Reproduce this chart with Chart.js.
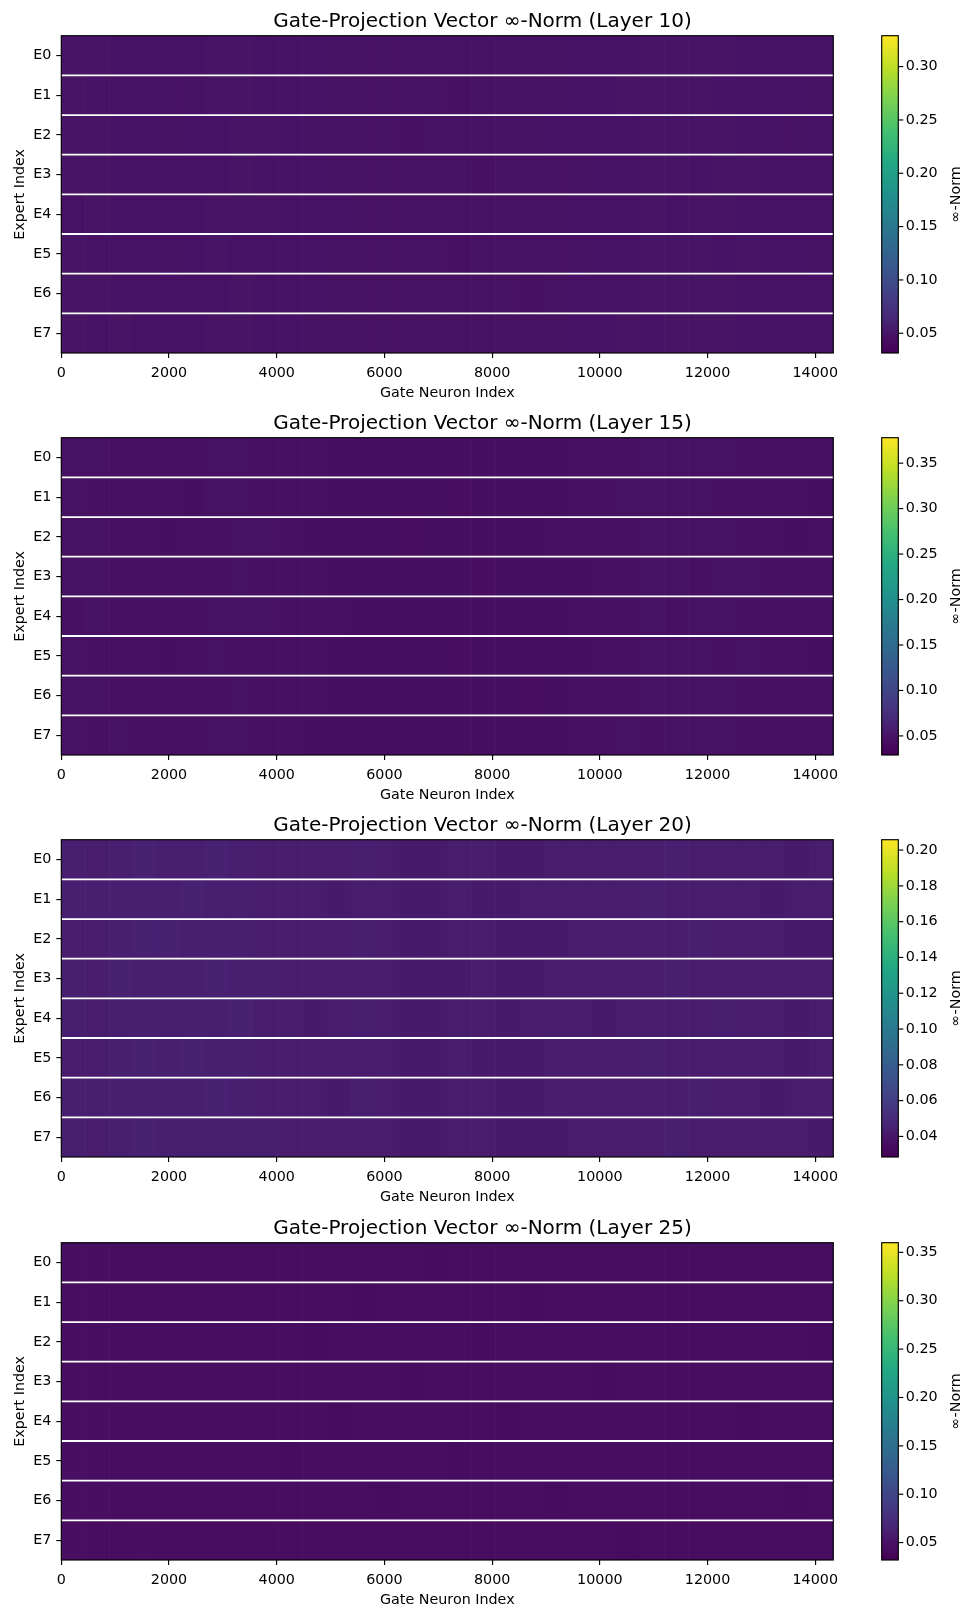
<!DOCTYPE html>
<html>
<head>
<meta charset="utf-8">
<script src="https://cdn.jsdelivr.net/npm/chart.js@4.4.1/dist/chart.umd.min.js"></script>
<style>
    body { margin: 0; background: #fff; width: 965px; height: 1610px; position: relative; overflow: hidden; }
    .panel { position: absolute; left: 0; width: 965px; height: 403px; }
</style>
</head>
<body>
<div class="panel" style="top:0px"><canvas id="chartL10" width="965" height="403"></canvas></div>
<div class="panel" style="top:402px"><canvas id="chartL15" width="965" height="403"></canvas></div>
<div class="panel" style="top:804px"><canvas id="chartL20" width="965" height="403"></canvas></div>
<div class="panel" style="top:1207px"><canvas id="chartL25" width="965" height="403"></canvas></div>
<script>
// ---- data ----
const experts = ['E0', 'E1', 'E2', 'E3', 'E4', 'E5', 'E6', 'E7'];
const numNeurons = 14336;
const xTicks = [0, 2000, 4000, 6000, 8000, 10000, 12000, 14000];

// colour limits of each panel
const range10 = [0.0315, 0.329];
const range15 = [0.029, 0.378];
const range20 = [0.0285, 0.2058];
const range25 = [0.032, 0.360];

const cbarTicks10 = [0.05, 0.10, 0.15, 0.20, 0.25, 0.30];
const cbarTicks15 = [0.05, 0.10, 0.15, 0.20, 0.25, 0.30, 0.35];
const cbarTicks20 = [0.04, 0.06, 0.08, 0.10, 0.12, 0.14, 0.16, 0.18, 0.20];
const cbarTicks25 = [0.05, 0.10, 0.15, 0.20, 0.25, 0.30, 0.35];

// inf-norm per expert, averaged over 32 blocks of 448 gate neurons
const layer10 = [
    [.049,.049,.048,.048,.048,.048,.049,.049,.048,.048,.048,.047,.047,.047,.047,.047,.047,.047,.047,.047,.047,.048,.048,.048,.049,.049,.049,.049,.048,.048,.048,.048],
    [.049,.048,.048,.048,.048,.047,.049,.049,.048,.048,.048,.047,.047,.047,.047,.047,.046,.047,.047,.047,.047,.048,.048,.049,.049,.049,.049,.048,.048,.048,.048,.047],
    [.049,.049,.048,.048,.047,.048,.048,.049,.049,.048,.047,.047,.047,.047,.046,.047,.047,.047,.047,.047,.048,.048,.048,.048,.049,.049,.049,.049,.048,.048,.047,.048],
    [.049,.049,.048,.048,.048,.048,.048,.049,.048,.048,.048,.047,.047,.047,.047,.047,.047,.046,.047,.047,.047,.047,.048,.048,.049,.049,.048,.049,.049,.048,.048,.048],
    [.048,.049,.048,.048,.048,.048,.049,.049,.049,.048,.048,.048,.047,.047,.047,.047,.047,.047,.047,.047,.047,.048,.048,.048,.049,.048,.049,.049,.048,.048,.048,.048],
    [.049,.048,.048,.048,.047,.048,.049,.048,.048,.048,.048,.047,.047,.047,.047,.047,.046,.047,.047,.047,.047,.047,.048,.048,.049,.049,.049,.048,.049,.048,.048,.047],
    [.049,.049,.048,.048,.048,.048,.048,.049,.048,.048,.048,.047,.047,.047,.047,.047,.047,.047,.047,.046,.047,.048,.048,.048,.049,.049,.049,.049,.048,.048,.048,.048],
    [.049,.048,.049,.048,.048,.048,.049,.049,.048,.048,.047,.047,.047,.047,.047,.047,.047,.047,.047,.047,.047,.048,.048,.049,.048,.049,.049,.049,.048,.048,.048,.048]
];
const layer15 = [
    [.047,.047,.046,.046,.046,.046,.047,.047,.046,.046,.046,.045,.045,.045,.045,.045,.045,.045,.045,.045,.045,.046,.046,.046,.047,.047,.047,.047,.046,.046,.046,.046],
    [.047,.046,.046,.046,.046,.045,.047,.047,.046,.046,.046,.045,.045,.045,.045,.045,.044,.045,.045,.045,.045,.046,.046,.047,.047,.047,.047,.046,.046,.046,.046,.045],
    [.047,.047,.046,.046,.045,.046,.046,.047,.047,.046,.045,.045,.045,.045,.044,.045,.045,.045,.045,.045,.046,.046,.046,.046,.047,.047,.047,.047,.046,.046,.045,.046],
    [.047,.047,.046,.046,.046,.046,.046,.047,.046,.046,.046,.045,.045,.045,.045,.045,.045,.044,.045,.045,.045,.045,.046,.046,.047,.047,.046,.047,.047,.046,.046,.046],
    [.046,.047,.046,.046,.046,.046,.047,.047,.047,.046,.046,.046,.045,.045,.045,.045,.045,.045,.045,.045,.045,.046,.046,.046,.047,.046,.047,.047,.046,.046,.046,.046],
    [.047,.046,.046,.046,.045,.046,.047,.046,.046,.046,.046,.045,.045,.045,.045,.045,.044,.045,.045,.045,.045,.045,.046,.046,.047,.047,.047,.046,.047,.046,.046,.045],
    [.047,.047,.046,.046,.046,.046,.046,.047,.046,.046,.046,.045,.045,.045,.045,.045,.045,.045,.045,.044,.045,.046,.046,.046,.047,.047,.047,.047,.046,.046,.046,.046],
    [.047,.046,.047,.046,.046,.046,.047,.047,.046,.046,.045,.045,.045,.045,.045,.045,.045,.045,.045,.045,.045,.046,.046,.047,.046,.047,.047,.047,.046,.046,.046,.046]
];
const layer20 = [
    [.044,.043,.044,.045,.044,.044,.045,.044,.043,.043,.043,.043,.044,.043,.042,.042,.043,.043,.042,.042,.043,.043,.043,.043,.043,.044,.043,.043,.043,.043,.042,.043],
    [.044,.044,.044,.044,.044,.045,.044,.044,.043,.043,.043,.042,.043,.043,.042,.042,.043,.042,.042,.043,.043,.043,.043,.043,.044,.043,.043,.043,.043,.042,.043,.043],
    [.043,.043,.044,.045,.045,.044,.044,.044,.043,.043,.043,.043,.044,.043,.042,.042,.043,.043,.042,.042,.042,.043,.043,.043,.043,.043,.044,.043,.043,.043,.042,.042],
    [.044,.043,.045,.044,.044,.044,.045,.044,.044,.043,.043,.043,.043,.043,.042,.042,.042,.043,.042,.042,.043,.043,.043,.043,.043,.044,.043,.043,.043,.043,.043,.043],
    [.044,.043,.044,.044,.044,.044,.044,.045,.043,.043,.042,.043,.044,.043,.042,.042,.043,.043,.042,.043,.043,.043,.042,.043,.043,.043,.043,.044,.043,.043,.042,.043],
    [.043,.043,.044,.045,.044,.045,.044,.044,.043,.043,.043,.043,.043,.043,.042,.042,.043,.042,.042,.042,.043,.043,.043,.043,.044,.043,.043,.043,.043,.043,.042,.043],
    [.044,.044,.044,.044,.044,.044,.045,.044,.043,.043,.043,.042,.044,.043,.042,.042,.043,.043,.042,.042,.043,.043,.043,.043,.043,.043,.044,.043,.043,.042,.043,.043],
    [.044,.043,.044,.045,.044,.044,.044,.044,.044,.043,.043,.043,.043,.043,.042,.042,.043,.043,.042,.042,.042,.043,.043,.043,.043,.044,.043,.043,.043,.043,.043,.042]
];
const layer25 = [
    [.046,.046,.045,.045,.045,.045,.045,.045,.045,.045,.045,.045,.045,.045,.045,.044,.045,.045,.045,.045,.045,.045,.045,.045,.045,.045,.045,.045,.045,.045,.045,.045],
    [.046,.045,.045,.045,.045,.045,.045,.045,.045,.045,.045,.045,.044,.045,.045,.045,.045,.045,.045,.044,.045,.045,.045,.045,.045,.045,.045,.045,.045,.045,.045,.045],
    [.046,.046,.045,.045,.045,.045,.045,.045,.045,.045,.044,.045,.045,.045,.045,.045,.045,.044,.045,.045,.045,.045,.045,.045,.045,.045,.045,.045,.045,.045,.045,.044],
    [.046,.045,.046,.045,.045,.045,.045,.045,.045,.045,.045,.045,.045,.045,.044,.045,.045,.045,.045,.045,.045,.045,.044,.045,.045,.045,.045,.045,.045,.045,.045,.045],
    [.046,.046,.045,.045,.045,.045,.045,.045,.045,.045,.045,.044,.045,.045,.045,.045,.045,.045,.044,.045,.045,.045,.045,.045,.045,.045,.045,.045,.044,.045,.045,.045],
    [.046,.045,.045,.045,.045,.045,.045,.045,.045,.044,.045,.045,.045,.045,.045,.045,.044,.045,.045,.045,.045,.045,.045,.045,.045,.045,.045,.045,.045,.045,.045,.045],
    [.046,.046,.045,.045,.045,.045,.045,.045,.045,.045,.045,.045,.045,.044,.045,.045,.045,.045,.045,.045,.044,.045,.045,.045,.045,.045,.045,.045,.045,.045,.044,.045],
    [.046,.045,.045,.046,.045,.045,.045,.045,.045,.045,.045,.045,.045,.045,.045,.045,.045,.045,.045,.045,.045,.045,.045,.044,.045,.045,.045,.045,.045,.045,.045,.045]
];

// ---- colour map (viridis) ----
const VIRIDIS = [
    [0.00, 68, 1, 84], [0.05, 71, 16, 99], [0.10, 72, 36, 117], [0.15, 70, 52, 128],
    [0.20, 65, 68, 135], [0.25, 59, 82, 139], [0.30, 53, 95, 141], [0.35, 47, 108, 142],
    [0.40, 42, 120, 142], [0.50, 33, 145, 140], [0.60, 34, 168, 132], [0.70, 68, 191, 112],
    [0.80, 122, 209, 81], [0.90, 189, 223, 38], [1.00, 253, 231, 37]
];

function viridis(t) {
    t = Math.min(1, Math.max(0, t));
    for (let i = 1; i < VIRIDIS.length; i++) {
        const a = VIRIDIS[i - 1], b = VIRIDIS[i];
        if (t <= b[0]) {
            const f = (t - a[0]) / (b[0] - a[0]);
            const c = [1, 2, 3].map(k => Math.round(a[k] + f * (b[k] - a[k])));
            return 'rgb(' + c.join(',') + ')';
        }
    }
    return 'rgb(253,231,37)';
}

Chart.defaults.font.family = "'DejaVu Sans', sans-serif";
Chart.defaults.font.size = 14.3;
Chart.defaults.color = '#000';

const PLOT_LEFT = 61.3;
const CBAR_GAP = 48.4;
const CBAR_W = 16.6;
const RIGHT_BLOCK = 131.7;
const TICK_LEN = 5;
const AXIS_LW = 1.15;

// separators, frame and colour bar
const heatDecor = {
    id: 'heatDecor',
    afterDatasetsDraw(chart) {
        const {ctx, chartArea: a, scales: {y}} = chart;
        ctx.save();
        ctx.strokeStyle = '#fff';
        ctx.lineWidth = 1.8;
        for (let r = 0; r < experts.length - 1; r++) {
            const py = y.getPixelForValue(r + 0.5);
            ctx.beginPath();
            ctx.moveTo(a.left, py);
            ctx.lineTo(a.right, py);
            ctx.stroke();
        }
        ctx.strokeStyle = '#000';
        ctx.lineWidth = AXIS_LW;
        ctx.strokeRect(a.left, a.top, a.right - a.left, a.bottom - a.top);
        ctx.restore();
    },
    afterDraw(chart) {
        const {ctx, chartArea: a, scales: {cb}} = chart;
        const x0 = a.right + CBAR_GAP;
        ctx.save();
        const g = ctx.createLinearGradient(0, cb.bottom, 0, cb.top);
        for (let i = 0; i <= 40; i++) g.addColorStop(i / 40, viridis(i / 40));
        ctx.fillStyle = g;
        ctx.fillRect(x0, cb.top, CBAR_W, cb.bottom - cb.top);
        ctx.strokeStyle = '#000';
        ctx.lineWidth = AXIS_LW;
        ctx.strokeRect(x0, cb.top, CBAR_W, cb.bottom - cb.top);
        cb.ticks.forEach(t => {
            const py = cb.getPixelForValue(t.value);
            ctx.beginPath();
            ctx.moveTo(x0 + CBAR_W, py);
            ctx.lineTo(x0 + CBAR_W + TICK_LEN, py);
            ctx.stroke();
        });
        ctx.translate(956, (cb.top + cb.bottom) / 2);
        ctx.rotate(-Math.PI / 2);
        ctx.fillStyle = '#000';
        ctx.font = "14.3px 'DejaVu Sans'";
        ctx.textAlign = 'center';
        ctx.textBaseline = 'middle';
        ctx.fillText('∞-Norm', 0, 0);
        ctx.restore();
    }
};

function drawLayer(canvasId, layerNo, rows, range, cbarTicks) {
    const [vmin, vmax] = range;
    const binW = numNeurons / rows[0].length;

    const datasets = rows.map((vals, r) => ({
        label: experts[r],
        data: vals.map((v, i) => ({y: experts[r], x: [i * binW - 0.5, (i + 1) * binW - 0.5]})),
        backgroundColor: vals.map(v => viridis((v - vmin) / (vmax - vmin))),
        borderWidth: 0,
        barPercentage: 1,
        categoryPercentage: 1,
        grouped: false
    }));

    const config = {
        type: 'bar',
        data: {labels: experts, datasets: datasets},
        options: {
            indexAxis: 'y',
            responsive: false,
            animation: false,
            devicePixelRatio: 1,
            layout: {padding: 0},
            plugins: {
                legend: {display: false},
                tooltip: {enabled: false},
                title: {
                    display: true,
                    text: 'Gate-Projection Vector ∞-Norm (Layer ' + layerNo + ')',
                    font: {size: 20, weight: 'normal'},
                    color: '#000',
                    padding: {top: 9.5, bottom: 2.2}
                }
            },
            scales: {
                x: {
                    type: 'linear',
                    position: 'bottom',
                    min: -0.5,
                    max: numNeurons - 0.5,
                    afterBuildTicks: s => { s.ticks = xTicks.map(v => ({value: v})); },
                    afterFit: s => { s.height = 50; },
                    grid: {drawOnChartArea: false, color: '#000', lineWidth: AXIS_LW, tickLength: TICK_LEN},
                    border: {display: false},
                    ticks: {padding: 6.5, maxRotation: 0, callback: v => String(v)},
                    title: {display: true, text: 'Gate Neuron Index', padding: {top: 0, bottom: 0.8}}
                },
                y: {
                    type: 'category',
                    offset: true,
                    afterFit: s => { s.width = PLOT_LEFT; },
                    grid: {offset: false, drawOnChartArea: false, color: '#000', lineWidth: AXIS_LW, tickLength: TICK_LEN},
                    border: {display: false},
                    ticks: {padding: 5},
                    title: {display: true, text: 'Expert Index', padding: {top: 11.3, bottom: 0}}
                },
                cb: {
                    type: 'linear',
                    position: 'right',
                    offset: false,
                    bounds: 'data',
                    min: vmin,
                    max: vmax,
                    afterBuildTicks: s => { s.ticks = cbarTicks.map(v => ({value: v})); },
                    afterFit: s => {
                        s.width = RIGHT_BLOCK;
                        s.paddingTop = 0;
                        s.paddingBottom = 0;
                    },
                    grid: {display: false, drawTicks: false, offset: false},
                    border: {display: false},
                    ticks: {padding: 72.5, callback: v => v.toFixed(2)}
                }
            }
        },
        plugins: [heatDecor]
    };

    const ctx = document.getElementById(canvasId).getContext('2d');
    new Chart(ctx, config);
}

drawLayer('chartL10', 10, layer10, range10, cbarTicks10);
drawLayer('chartL15', 15, layer15, range15, cbarTicks15);
drawLayer('chartL20', 20, layer20, range20, cbarTicks20);
drawLayer('chartL25', 25, layer25, range25, cbarTicks25);
</script>
</body>
</html>
